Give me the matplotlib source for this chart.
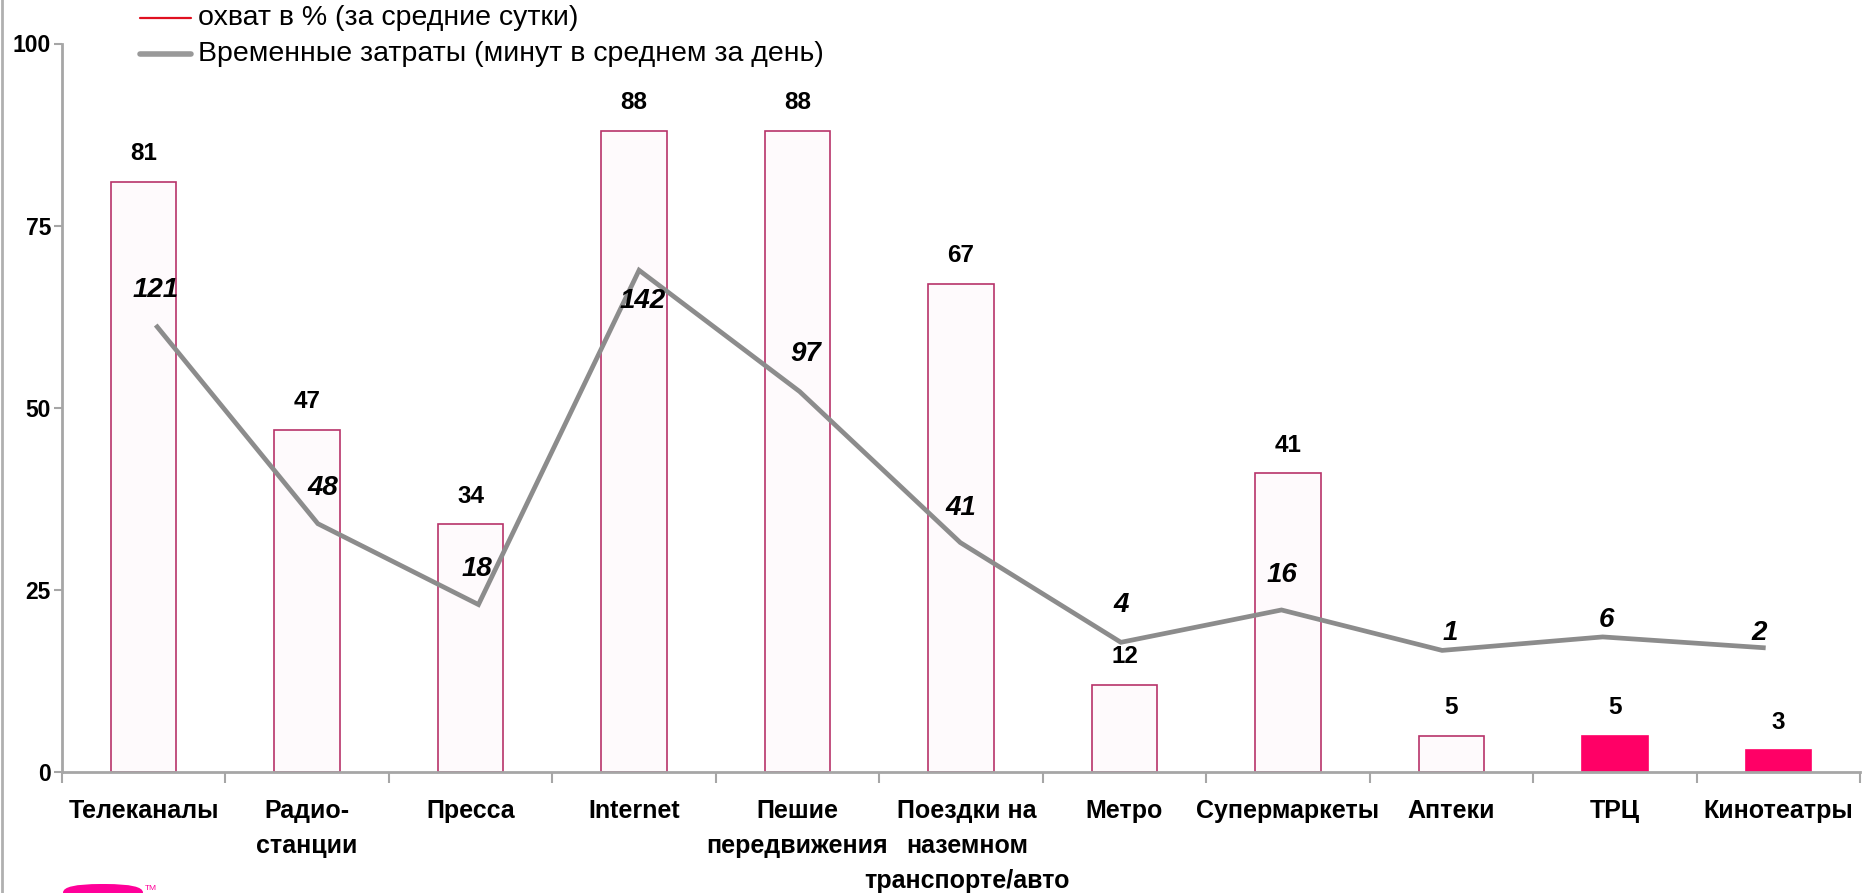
import matplotlib
matplotlib.use("Agg")
import matplotlib.pyplot as plt
from matplotlib.lines import Line2D
from matplotlib.patches import FancyBboxPatch

plt.rcParams['font.family'] = ['Liberation Sans', 'DejaVu Sans']

# ---- data ----
categories = ["Телеканалы", "Радио-\nстанции", "Пресса", "Internet", "Пешие\nпередвижения",
              "Поездки на\nназемном\nтранспорте/авто", "Метро", "Супермаркеты", "Аптеки",
              "ТРЦ", "Кинотеатры"]
reach_pct = [81, 47, 34, 88, 88, 67, 12, 41, 5, 5, 3]
minutes_per_day = [121, 48, 18, 142, 97, 41, 4, 16, 1, 6, 2]
filled_categories = ["ТРЦ", "Кинотеатры"]
legend_labels = ["охват в % (за средние сутки)", "Временные затраты (минут в среднем за день)"]
y_ticks = [0, 25, 50, 75, 100]

# ---- style ----
W, H = 1868, 893
DPI = 100
edge_col = "#B8336A"
face_col = "#FEFAFC"
fill_col = "#FF0066"
line_col = "#8C8C8C"
axis_col = "#A6A6A6"

# label offsets for the minutes series (pixels, relative to the point)
minute_label_offsets = [(-2, 37), (5, 36), (-2, 36), (4, -31), (6, 38), (1, 35),
                        (0, 37), (0, 35), (8, 17), (4, 17), (-4, 15)]
# horizontal nudge of the category captions (pixels)
caption_dx = [0, 0, 0, 0, 0, 6, 0, 0, 0, 0, 0]

fig = plt.figure(figsize=(W / DPI, H / DPI), dpi=DPI)
left, right = 62 / W, 1860 / W
bottom, top = (H - 772) / H, (H - 43.5) / H
ax = fig.add_axes([left, bottom, right - left, top - bottom])

n = len(categories)
xs = list(range(n))
faces = [fill_col if c in filled_categories else face_col for c in categories]
edges = [fill_col if c in filled_categories else edge_col for c in categories]
bars = ax.bar(xs, reach_pct, width=0.40, color=faces, edgecolor=edges, linewidth=1.2, zorder=2)
for x, v in zip(xs, reach_pct):
    ax.annotate(str(v), (x, v), xytext=(0, 28), textcoords="offset pixels",
                ha="center", va="center", fontsize=17.5, fontweight="bold", color="black")

ax.set_xlim(-0.5, n - 0.5)
ax.set_ylim(0, 100)
ax.set_yticks(y_ticks)
ax.set_yticklabels([str(t) for t in y_ticks], fontsize=16.5, fontweight="bold")
ax.set_xticks(xs)
ax.set_xticks([i - 0.5 for i in range(n + 1)], minor=True)
ax.tick_params(axis="x", which="major", length=0, labelbottom=False)
ax.tick_params(axis="x", which="minor", length=8, width=1.5, color=axis_col, direction="out")
ax.tick_params(axis="y", length=6, width=1.5, color=axis_col, direction="out", pad=2)
for s in ["top", "right"]:
    ax.spines[s].set_visible(False)
for s in ["left", "bottom"]:
    ax.spines[s].set_color(axis_col)
    ax.spines[s].set_linewidth(2)

# category captions, one text per wrapped line
for x, cat, dx in zip(xs, categories, caption_dx):
    for j, part in enumerate(cat.split("\n")):
        ax.annotate(part, xy=(x, 0), xycoords=("data", "axes fraction"),
                    xytext=(dx, -39 - 35 * j), textcoords="offset pixels",
                    ha="center", va="center", fontsize=18, fontweight="bold",
                    annotation_clip=False)

# minutes series on its own hidden scale
ax2 = fig.add_axes(ax.get_position(), frameon=False)
ax2.set_xlim(-0.593, 10.602)
ax2.set_ylim(-44.1, 226.1)
ax2.set_xticks([])
ax2.set_yticks([])
line, = ax2.plot(xs, minutes_per_day, color=line_col, linewidth=3.4, solid_joinstyle="miter", zorder=3)
for x, v, (dx, dy) in zip(xs, minutes_per_day, minute_label_offsets):
    ax2.annotate(str(v), (x, v), xytext=(dx, dy), textcoords="offset pixels",
                 ha="center", va="center", fontsize=20, fontweight="bold", fontstyle="italic")

# legend
leg_rows = [(18, "#E01020", 1.6), (54, "#999999", 4.0)]
for (yy, col, lw), lab in zip(leg_rows, legend_labels):
    fig.add_artist(Line2D([140 / W, 191 / W], [1 - yy / H] * 2, color=col, linewidth=lw,
                          solid_capstyle="round"))
    fig.text(198 / W, 1 - yy / H, lab, ha="left", va="center", fontsize=20.5, color="black")

# frame edge on the left
fig.add_artist(Line2D([1.5 / W, 1.5 / W], [0, 1], color="#B0B0B0", linewidth=2))

# logo fragment at the bottom-left
logo = FancyBboxPatch((63 / W, -0.05), 80 / W, (H - 884) / H + 0.05,
                      boxstyle="round,pad=0,rounding_size=0.02", transform=fig.transFigure,
                      facecolor="#FF0099", edgecolor="none", mutation_aspect=H / W)
fig.add_artist(logo)
fig.text(145 / W, 1 - 885 / H, "TM", fontsize=6, color="#FF0099", ha="left", va="top")

fig.savefig("out.png", dpi=DPI, facecolor="white")
